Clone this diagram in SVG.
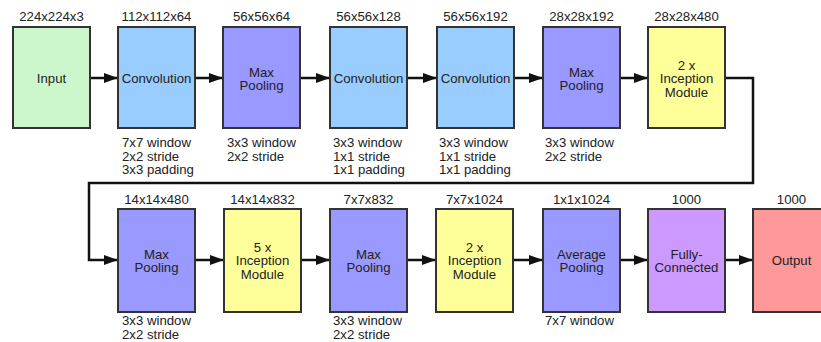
<svg xmlns="http://www.w3.org/2000/svg" width="821" height="342" viewBox="0 0 821 342">
<defs>
<marker id="ah" viewBox="0 0 14 10" refX="14" refY="5" markerWidth="14" markerHeight="10" markerUnits="userSpaceOnUse" orient="auto">
<path d="M0,0 L14,5 L0,10 z" fill="#111"/>
</marker>
<style>
text{font-family:"Liberation Sans",Arial,sans-serif;font-size:13.2px;fill:#222}
.c{text-anchor:middle}
.box{stroke:#333;stroke-width:2}
.in{fill:#ccf7cc}.cv{fill:#99ccff}.mp{fill:#9999ff}.ic{fill:#ffff99}.fc{fill:#cc99ff}.out{fill:#ff9999}
.con{stroke:#111;stroke-width:2.5;fill:none}
</style>
</defs>
<rect width="821" height="342" fill="#fff"/>
<g id="connectors">
<line class="con" x1="90" y1="78" x2="118" y2="78" marker-end="url(#ah)"/>
<line class="con" x1="195" y1="78" x2="223" y2="78" marker-end="url(#ah)"/>
<line class="con" x1="300" y1="78" x2="330" y2="78" marker-end="url(#ah)"/>
<line class="con" x1="407" y1="78" x2="437" y2="78" marker-end="url(#ah)"/>
<line class="con" x1="514" y1="78" x2="543" y2="78" marker-end="url(#ah)"/>
<line class="con" x1="620" y1="78" x2="648" y2="78" marker-end="url(#ah)"/>
<polyline class="con" points="725,78 753,78 753,183 89,183 89,260 118,260" marker-end="url(#ah)"/>
<line class="con" x1="195" y1="260" x2="224" y2="260" marker-end="url(#ah)"/>
<line class="con" x1="301" y1="260" x2="330" y2="260" marker-end="url(#ah)"/>
<line class="con" x1="407" y1="260" x2="436" y2="260" marker-end="url(#ah)"/>
<line class="con" x1="513" y1="260" x2="543" y2="260" marker-end="url(#ah)"/>
<line class="con" x1="620" y1="260" x2="648" y2="260" marker-end="url(#ah)"/>
<line class="con" x1="725" y1="260" x2="753" y2="260" marker-end="url(#ah)"/>
</g>
<g id="input">
<text class="c" x="51.5" y="21">224x224x3</text>
<rect class="box in" x="13" y="27" width="77" height="101"/>
<text class="c" x="51.5" y="83">Input</text>
</g>
<g id="conv1">
<text class="c" x="156.5" y="21">112x112x64</text>
<rect class="box cv" x="118" y="27" width="77" height="101"/>
<text class="c" x="156.5" y="83">Convolution</text>
<text x="122" y="147">7x7 window</text>
<text x="122" y="160.5">2x2 stride</text>
<text x="122" y="174">3x3 padding</text>
</g>
<g id="pool1">
<text class="c" x="261.5" y="21">56x56x64</text>
<rect class="box mp" x="223" y="27" width="77" height="101"/>
<text class="c" x="261.5" y="76.5">Max</text>
<text class="c" x="261.5" y="90">Pooling</text>
<text x="227" y="147">3x3 window</text>
<text x="227" y="160.5">2x2 stride</text>
</g>
<g id="conv2">
<text class="c" x="368.5" y="21">56x56x128</text>
<rect class="box cv" x="330" y="27" width="77" height="101"/>
<text class="c" x="368.5" y="83">Convolution</text>
<text x="333" y="147">3x3 window</text>
<text x="333" y="160.5">1x1 stride</text>
<text x="333" y="174">1x1 padding</text>
</g>
<g id="conv3">
<text class="c" x="475.5" y="21">56x56x192</text>
<rect class="box cv" x="437" y="27" width="77" height="101"/>
<text class="c" x="475.5" y="83">Convolution</text>
<text x="439" y="147">3x3 window</text>
<text x="439" y="160.5">1x1 stride</text>
<text x="439" y="174">1x1 padding</text>
</g>
<g id="pool2">
<text class="c" x="581.5" y="21">28x28x192</text>
<rect class="box mp" x="543" y="27" width="77" height="101"/>
<text class="c" x="581.5" y="76.5">Max</text>
<text class="c" x="581.5" y="90">Pooling</text>
<text x="545" y="147">3x3 window</text>
<text x="545" y="160.5">2x2 stride</text>
</g>
<g id="incep1">
<text class="c" x="686.5" y="21">28x28x480</text>
<rect class="box ic" x="648" y="27" width="77" height="101"/>
<text class="c" x="686.5" y="69.5">2 x</text>
<text class="c" x="686.5" y="83">Inception</text>
<text class="c" x="686.5" y="96.5">Module</text>
</g>
<g id="pool3">
<text class="c" x="156.5" y="203.5">14x14x480</text>
<rect class="box mp" x="118" y="209" width="77" height="103"/>
<text class="c" x="156.5" y="258.5">Max</text>
<text class="c" x="156.5" y="272">Pooling</text>
<text x="122" y="325">3x3 window</text>
<text x="122" y="338.5">2x2 stride</text>
</g>
<g id="incep2">
<text class="c" x="262.5" y="203.5">14x14x832</text>
<rect class="box ic" x="224" y="209" width="77" height="103"/>
<text class="c" x="262.5" y="251.5">5 x</text>
<text class="c" x="262.5" y="265">Inception</text>
<text class="c" x="262.5" y="278.5">Module</text>
</g>
<g id="pool4">
<text class="c" x="368.5" y="203.5">7x7x832</text>
<rect class="box mp" x="330" y="209" width="77" height="103"/>
<text class="c" x="368.5" y="258.5">Max</text>
<text class="c" x="368.5" y="272">Pooling</text>
<text x="333" y="325">3x3 window</text>
<text x="333" y="338.5">2x2 stride</text>
</g>
<g id="incep3">
<text class="c" x="474.5" y="203.5">7x7x1024</text>
<rect class="box ic" x="436" y="209" width="77" height="103"/>
<text class="c" x="474.5" y="251.5">2 x</text>
<text class="c" x="474.5" y="265">Inception</text>
<text class="c" x="474.5" y="278.5">Module</text>
</g>
<g id="avgpool">
<text class="c" x="581.5" y="203.5">1x1x1024</text>
<rect class="box mp" x="543" y="209" width="77" height="103"/>
<text class="c" x="581.5" y="258.5">Average</text>
<text class="c" x="581.5" y="272">Pooling</text>
<text x="545" y="325">7x7 window</text>
</g>
<g id="fc">
<text class="c" x="686.5" y="203.5">1000</text>
<rect class="box fc" x="648" y="209" width="77" height="103"/>
<text class="c" x="686.5" y="258.5">Fully-</text>
<text class="c" x="686.5" y="272">Connected</text>
</g>
<g id="output">
<text class="c" x="791.5" y="203.5">1000</text>
<rect class="box out" x="753" y="209" width="77" height="103"/>
<text class="c" x="791.5" y="265">Output</text>
</g>
</svg>
